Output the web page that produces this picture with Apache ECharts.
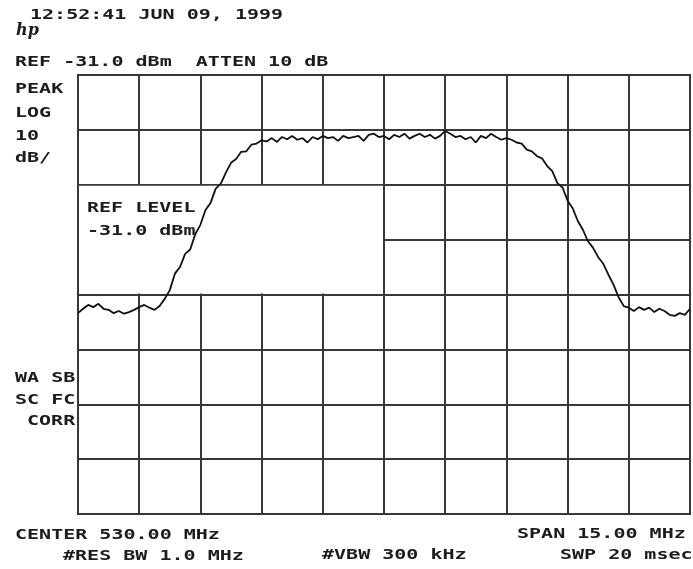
<!DOCTYPE html>
<html>
<head>
<meta charset="utf-8">
<script src="https://cdn.jsdelivr.net/npm/echarts@6/dist/echarts.min.js"></script>
<style>
  html, body { margin: 0; padding: 0; background: #fff; }
  #container { width: 693px; height: 569px; }
</style>
</head>
<body>
<div id="container"></div>
<script>
// sweep: center 530 MHz, span 15 MHz, ref -31 dBm, 10 dB/div
var freqMHz = [
  522.500,522.625,522.750,522.875,523.000,523.125,523.250,523.375,523.500,523.625,
  523.750,523.875,524.000,524.125,524.250,524.375,524.500,524.625,524.750,524.875,
  525.000,525.125,525.250,525.375,525.500,525.625,525.750,525.875,526.000,526.125,
  526.250,526.375,526.500,526.625,526.750,526.875,527.000,527.125,527.250,527.375,
  527.500,527.625,527.750,527.875,528.000,528.125,528.250,528.375,528.500,528.625,
  528.750,528.875,529.000,529.125,529.250,529.375,529.500,529.625,529.750,529.875,
  530.000,530.125,530.250,530.375,530.500,530.625,530.750,530.875,531.000,531.125,
  531.250,531.375,531.500,531.625,531.750,531.875,532.000,532.125,532.250,532.375,
  532.500,532.625,532.750,532.875,533.000,533.125,533.250,533.375,533.500,533.625,
  533.750,533.875,534.000,534.125,534.250,534.375,534.500,534.625,534.750,534.875,
  535.000,535.125,535.250,535.375,535.500,535.625,535.750,535.875,536.000,536.125,
  536.250,536.375,536.500,536.625,536.750,536.875,537.000,537.125,537.250,537.375,
  537.500
];
var levelDbm = [
  -74.4,-73.6,-72.9,-73.3,-72.7,-73.6,-73.8,-74.4,-74.0,-74.5,
  -74.2,-73.8,-73.3,-72.9,-73.4,-73.8,-73.1,-71.8,-70.2,-67.2,
  -66.0,-63.6,-62.8,-60.0,-58.3,-55.6,-54.3,-51.7,-50.8,-48.8,
  -47.0,-46.3,-45.0,-44.9,-43.7,-43.5,-42.9,-43.1,-42.5,-43.2,
  -42.3,-42.7,-42.1,-42.8,-42.5,-43.3,-42.3,-42.7,-42.1,-42.5,
  -42.3,-43.0,-42.1,-42.5,-42.3,-42.1,-43.0,-41.9,-41.7,-42.3,
  -42.1,-42.7,-41.9,-42.3,-41.7,-42.6,-42.1,-41.7,-42.3,-41.9,
  -42.6,-42.1,-41.2,-41.7,-42.3,-42.1,-42.7,-42.3,-43.3,-42.1,
  -42.5,-41.7,-42.3,-42.8,-42.5,-42.8,-43.3,-43.5,-44.6,-44.9,
  -45.8,-46.2,-47.6,-48.5,-50.7,-51.5,-53.9,-55.3,-57.6,-59.2,
  -61.3,-62.5,-64.2,-65.4,-67.4,-69.2,-71.5,-73.1,-73.4,-74.0,
  -73.3,-73.8,-73.4,-74.2,-73.6,-74.0,-74.7,-74.9,-74.4,-74.7,
  -73.6
];

var freqMin = 522.5, freqMax = 537.5;
var refLevel = -31, dbPerDiv = 10, yDivs = 8, xDivs = 10;

// annotation box (REF LEVEL) corners in MHz / dBm
var refBoxFreq = [522.5, 530.0];
var refBoxDbm = [-51, -71];

// screen texts
var headerLines = ['12:52:41 JUN 09, 1999', 'REF -31.0 dBm  ATTEN 10 dB'];
var sideLines = ['PEAK', 'LOG', '10', 'dB/'];
var refLevelLines = ['REF LEVEL', '-31.0 dBm'];
var corrLines = ['WA SB', 'SC FC', 'CORR'];
var footerLines = ['CENTER 530.00 MHz', '#RES BW 1.0 MHz', '#VBW 300 kHz', 'SPAN 15.00 MHz', 'SWP 20 msec'];

var data = [];
for (var i = 0; i < freqMHz.length; i++) {
  data.push([freqMHz[i], levelDbm[i]]);
}

var gridColor = '#383838';
var font = 'bold 14px "DejaVu Sans Mono"';
var sx = 1.43; // HP screen font is wide

function txt(str, x, y) {
  return {
    type: 'text', x: x, y: y, scaleX: sx, z: 10,
    style: {
      text: str, font: font, fill: '#1c1c1c',
      textAlign: 'left', textVerticalAlign: 'middle',
      align: 'left', verticalAlign: 'middle'
    }
  };
}

var graphics = [
  txt(headerLines[0], 30, 15),
  txt(headerLines[1], 15, 62),
  txt(sideLines[0], 15, 89),
  txt(sideLines[1], 15, 113),
  txt(sideLines[2], 15, 136),
  txt(sideLines[3], 15, 158),
  txt(refLevelLines[0], 87, 208),
  txt(refLevelLines[1], 87, 231),
  txt(corrLines[0], 15, 378),
  txt(corrLines[1], 15, 400),
  txt(corrLines[2], 27, 421),
  txt(footerLines[0], 15, 535),
  txt(footerLines[1], 63, 556),
  txt(footerLines[2], 322, 555),
  txt(footerLines[3], 517, 534),
  txt(footerLines[4], 560, 555),
  {
    type: 'text', x: 16, y: 31, z: 10,
    style: {
      text: 'hp', font: 'italic bold 16px "DejaVu Serif"', fill: '#1c1c1c',
      textAlign: 'left', textVerticalAlign: 'middle',
      align: 'left', verticalAlign: 'middle'
    }
  }
];

var dom = document.getElementById('container');
var myChart = echarts.init(dom, null, { renderer: 'canvas' });

var option = {
  animation: false,
  backgroundColor: '#fff',
  grid: {
    left: 78, top: 75, right: 3, bottom: 55,
    show: true, borderColor: gridColor, borderWidth: 2, backgroundColor: '#fff'
  },
  xAxis: [
    { // data axis
      type: 'value', min: freqMin, max: freqMax, show: false
    },
    { // graticule
      type: 'value', min: 0, max: xDivs, interval: 1,
      axisLine: { show: false }, axisTick: { show: false }, axisLabel: { show: false },
      splitLine: { show: true, lineStyle: { color: gridColor, width: 2 } }
    }
  ],
  yAxis: [
    {
      type: 'value', min: refLevel - dbPerDiv * yDivs, max: refLevel, show: false
    },
    {
      type: 'value', min: 0, max: yDivs, interval: 1,
      axisLine: { show: false }, axisTick: { show: false }, axisLabel: { show: false },
      splitLine: { show: true, lineStyle: { color: gridColor, width: 2 } }
    }
  ],
  graphic: graphics,
  series: [
    {
      name: 'Trace',
      type: 'line',
      xAxisIndex: 0,
      yAxisIndex: 0,
      data: data,
      symbol: 'none',
      z: 3,
      lineStyle: { color: '#111', width: 1.8 },
      markArea: {
        silent: true,
        z: 1,
        itemStyle: { color: '#fff' },
        data: [[
          { coord: [refBoxFreq[0] + 0.025, refBoxDbm[0] - 0.18] },
          { coord: [refBoxFreq[1] - 0.025, refBoxDbm[1] + 0.18] }
        ]]
      }
    }
  ]
};

if (option && typeof option === 'object') {
  myChart.setOption(option, true);
}
</script>
</body>
</html>
